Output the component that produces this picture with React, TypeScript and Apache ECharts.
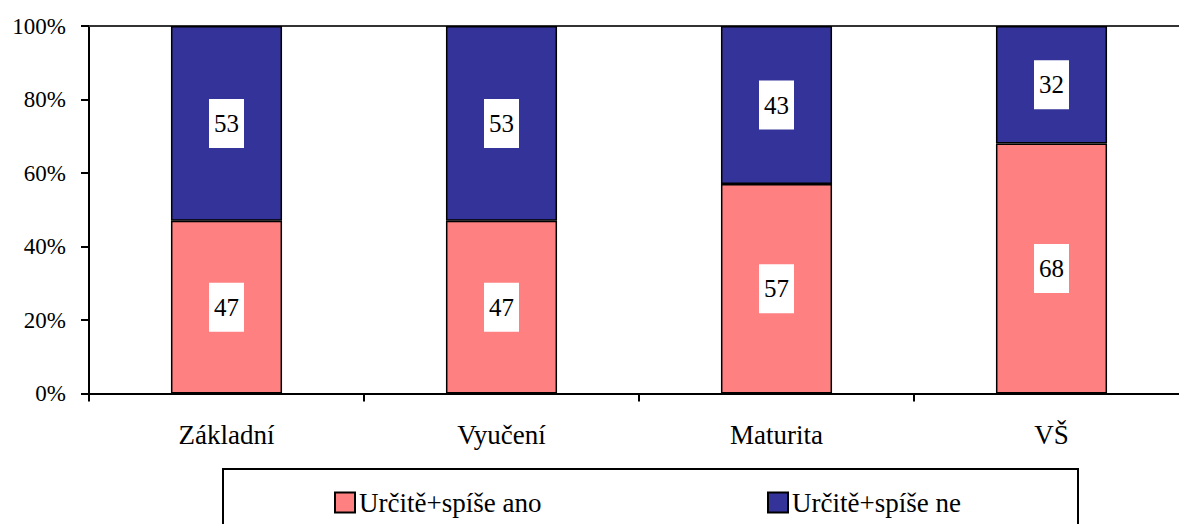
import React, { useEffect, useRef } from "react";
import * as echarts from "echarts";

const categories = ["Základní", "Vyučení", "Maturita", "VŠ"];
const seriesNames = ["Určitě+spíše ano", "Určitě+spíše ne"];
const yesValues = [47, 47, 57, 68];
const noValues = [53, 53, 43, 32];

export default function App() {
  const ref = useRef<HTMLDivElement>(null);
  useEffect(() => {
    if (!ref.current) return;
    const chart = echarts.init(ref.current, null, { renderer: "svg" });
    const font = "'Liberation Serif', 'Times New Roman', serif";
    const label = {
      show: true,
      position: "inside",
      color: "#000",
      fontFamily: font,
      fontSize: 25,
      backgroundColor: "#fff",
      padding: [12, 5, 12, 5],
    };
    const legendText = { fontSize: 27, fontFamily: font, color: "#000", padding: [0, 0, 0, -1] };
    chart.setOption({
      animation: false,
      backgroundColor: "#fff",
      textStyle: { fontFamily: font },
      grid: { left: 89, top: 26, width: 1100, height: 367.5 },
      xAxis: [
        {
          type: "category",
          data: categories,
          axisLine: { show: true, lineStyle: { color: "#000", width: 2 } },
          axisTick: { show: true, length: 8, lineStyle: { color: "#000", width: 2 } },
          axisLabel: { color: "#000", fontSize: 27, fontFamily: font, margin: 28 },
        },
        {
          type: "category",
          position: "top",
          data: categories,
          axisLine: { show: true, lineStyle: { color: "#333", width: 2 } },
          axisTick: { show: false },
          axisLabel: { show: false },
        },
      ],
      yAxis: {
        type: "value",
        min: 0,
        max: 100,
        interval: 20,
        axisLine: { show: true, lineStyle: { color: "#000", width: 2 } },
        axisTick: { show: true, length: 8, lineStyle: { color: "#000", width: 2 } },
        splitLine: { show: false },
        axisLabel: {
          formatter: "{value}%",
          color: "#000",
          fontSize: 23,
          fontFamily: font,
          margin: 23,
        },
      },
      legend: [
        {
          data: [seriesNames[0]],
          left: 329,
          top: 484,
          itemWidth: 20,
          itemHeight: 20,
          itemGap: 4,
          icon: "rect",
          textStyle: legendText,
        },
        {
          data: [seriesNames[1]],
          left: 762,
          top: 484,
          itemWidth: 20,
          itemHeight: 20,
          itemGap: 4,
          icon: "rect",
          textStyle: legendText,
        },
      ],
      graphic: [
        {
          type: "rect",
          shape: { x: 223, y: 469, width: 855, height: 80 },
          style: { fill: "none", stroke: "#000", lineWidth: 2 },
          silent: true,
        },
      ],
      series: [
        {
          name: seriesNames[0],
          type: "bar",
          stack: "total",
          data: yesValues,
          barWidth: "40.4%",
          itemStyle: { color: "#FF8080", borderColor: "#000", borderWidth: 1.5 },
          label,
        },
        {
          name: seriesNames[1],
          type: "bar",
          stack: "total",
          data: noValues,
          barWidth: "40.4%",
          itemStyle: { color: "#333399", borderColor: "#000", borderWidth: 1.5 },
          label,
        },
      ],
    });
    return () => chart.dispose();
  }, []);
  return (
    <div
      style={{
        position: "absolute",
        left: 0,
        top: 0,
        width: 1179,
        height: 524,
        overflow: "hidden",
      }}
    >
      <div ref={ref} style={{ width: 1200, height: 524 }} />
    </div>
  );
}
